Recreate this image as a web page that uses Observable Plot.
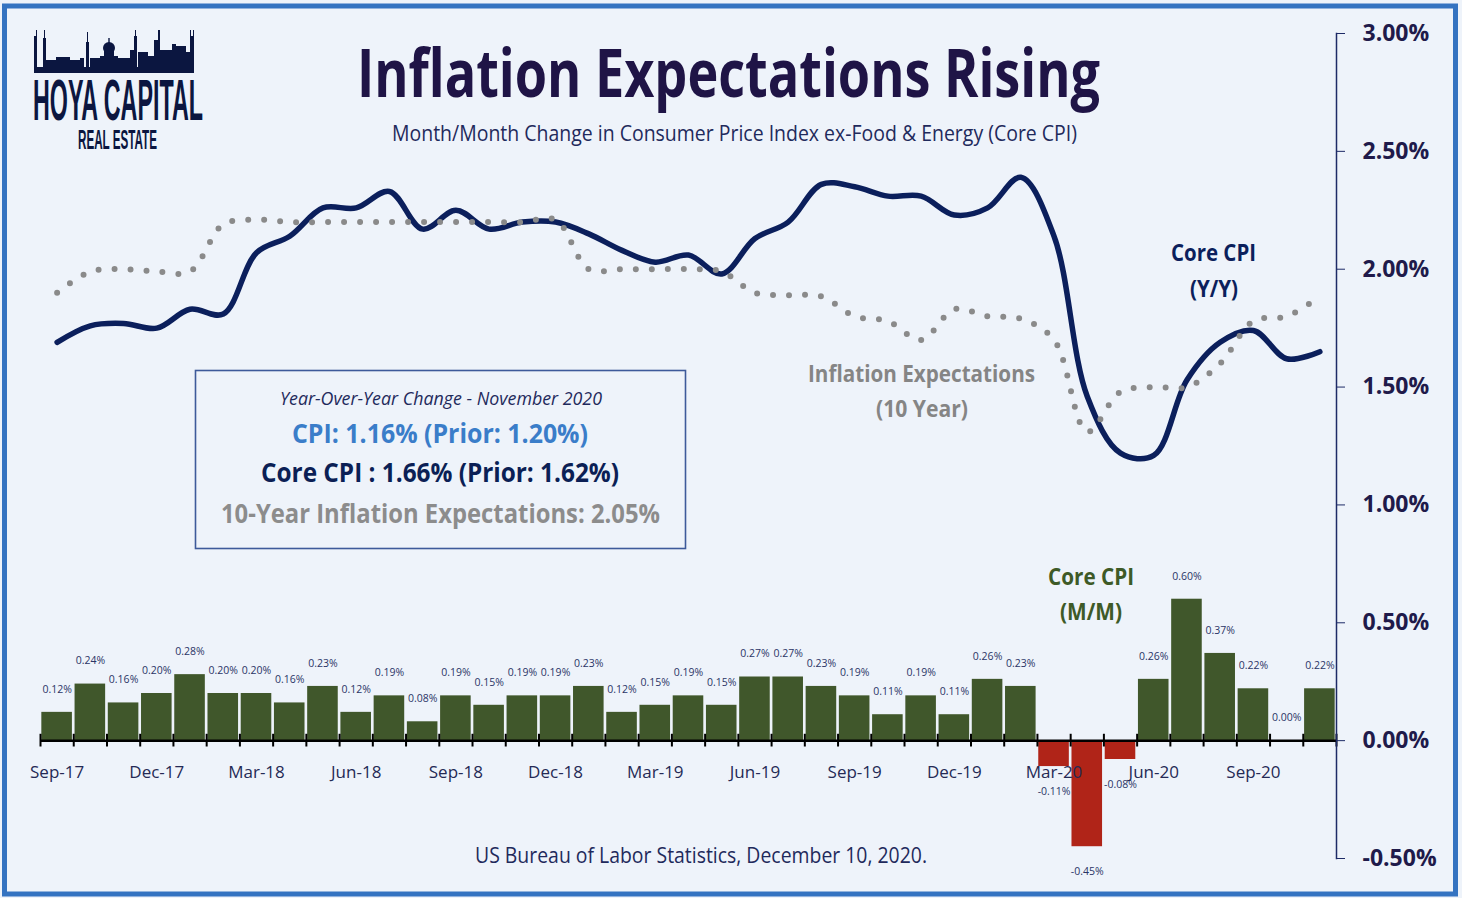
<!DOCTYPE html>
<html>
<head>
<meta charset="utf-8">
<script src="https://cdn.jsdelivr.net/npm/d3@7"></script>
<script src="https://cdn.jsdelivr.net/npm/@observablehq/plot@0.6"></script>
<style>
  html, body { margin: 0; padding: 0; background: #f3f5f8; overflow: hidden; }
  #chart { position: absolute; left: 0; top: 0; width: 1462px; height: 898px; }
</style>
</head>
<body>
<div id="chart"></div>
<script>
// ---------- data ----------
const months = ["Sep-17","Oct-17","Nov-17","Dec-17","Jan-18","Feb-18","Mar-18","Apr-18","May-18","Jun-18","Jul-18","Aug-18",
  "Sep-18","Oct-18","Nov-18","Dec-18","Jan-19","Feb-19","Mar-19","Apr-19","May-19","Jun-19","Jul-19","Aug-19",
  "Sep-19","Oct-19","Nov-19","Dec-19","Jan-20","Feb-20","Mar-20","Apr-20","May-20","Jun-20","Jul-20","Aug-20",
  "Sep-20","Oct-20","Nov-20"];
const coreMoM = [0.12,0.24,0.16,0.20,0.28,0.20,0.20,0.16,0.23,0.12,0.19,0.08,
  0.19,0.15,0.19,0.19,0.23,0.12,0.15,0.19,0.15,0.27,0.27,0.23,
  0.19,0.11,0.19,0.11,0.26,0.23,-0.11,-0.45,-0.08,0.26,0.60,0.37,
  0.22,0.00,0.22];
const coreYoY = [1.69,1.76,1.77,1.75,1.83,1.81,2.07,2.14,2.26,2.26,2.33,2.17,
  2.25,2.17,2.20,2.20,2.15,2.08,2.03,2.06,1.98,2.13,2.20,2.36,
  2.35,2.31,2.31,2.23,2.26,2.39,2.14,1.46,1.22,1.21,1.53,1.69,
  1.74,1.62,1.65];
const inflExp = [1.90,1.99,2.00,1.99,1.99,2.19,2.21,2.20,2.20,2.20,2.20,2.20,
  2.20,2.20,2.20,2.21,2.00,2.00,2.00,2.00,1.99,1.90,1.89,1.885,
  1.80,1.78,1.70,1.83,1.80,1.79,1.70,1.31,1.48,1.50,1.50,1.60,
  1.78,1.80,1.885];
const tickLabels = ["Sep-17","Dec-17","Mar-18","Jun-18","Sep-18","Dec-18","Mar-19","Jun-19","Sep-19","Dec-19","Mar-20","Jun-20","Sep-20"];
const yTicks = [-0.5,0,0.5,1,1.5,2,2.5,3];

const rows = months.map((m, i) => ({month: m, mm: coreMoM[i], core: coreYoY[i], exp: inflExp[i]}));
const pct = v => v.toFixed(2) + "%";

const GREEN = "#40572b", RED = "#b02418", NAVY = "#0b1f5c", GRAY = "#8a8a8a", INK = "#201a4a";

const plot = Plot.plot({
  width: 1462,
  height: 898,
  marginLeft: 40,
  marginRight: 126,
  marginTop: 33,
  marginBottom: 40,
  style: {background: "#eef3fa", fontFamily: "Open Sans, sans-serif"},
  x: {type: "band", domain: months, paddingInner: 0.08, paddingOuter: 0.04, round: false, axis: null},
  y: {type: "linear", domain: [-0.5, 3.0], axis: null},
  marks: [
    Plot.barY(rows, {x: "month", y: "mm", fill: d => d.mm < 0 ? RED : GREEN}),
    Plot.ruleY([0], {stroke: "#000", strokeWidth: 2.5}),
    Plot.ruleX(months, {x: d => d, y1: -0.027, y2: 0.027, dx: -16.6, stroke: "#000", strokeWidth: 2}),
    Plot.ruleX([months[months.length - 1]], {x: d => d, y1: -0.027, y2: 0.027, dx: 16.6, stroke: "#000", strokeWidth: 2}),
    Plot.text(rows.filter(d => d.mm >= 0), {x: "month", y: "mm", text: d => pct(d.mm), dy: -23, fontSize: 10.5, fill: "#2b3566"}),
    Plot.text(rows.filter(d => d.mm < 0), {x: "month", y: "mm", text: d => pct(d.mm), dy: 25, fontSize: 10.5, fill: "#2b3566"}),
    Plot.text(tickLabels, {x: d => d, y: 0, dy: 32, fontSize: 17, fill: "#252a55"}),
    Plot.line(rows, {x: "month", y: "core", curve: "catmull-rom", stroke: NAVY, strokeWidth: 5.5, strokeLinecap: "round"}),
    Plot.line(rows, {x: "month", y: "exp", curve: "catmull-rom", stroke: GRAY, strokeWidth: 6, strokeDasharray: "0 16", strokeLinecap: "round"}),
    Plot.frame({anchor: "right", stroke: "#1d2a66", strokeWidth: 1.5}),
    Plot.axisY({anchor: "right", ticks: yTicks, tickFormat: pct, tickSize: 8, tickPadding: 18,
      fontSize: 23, fontWeight: "bold", color: INK, stroke: "#1d2a66"})
  ]
});

document.getElementById("chart").appendChild(plot);

// ---------- decorations (text, logo, box, frame) ----------
const svg = d3.select(plot);
const deco = svg.append("g").attr("class", "deco");

function txt(s, x, y, size, len, opts = {}) {
  const t = deco.append("text")
    .attr("x", x).attr("y", y)
    .attr("font-family", opts.family || "Open Sans, sans-serif")
    .attr("font-size", size)
    .attr("font-weight", opts.weight || "normal")
    .attr("font-style", opts.italic ? "italic" : "normal")
    .attr("fill", opts.fill || "#1f2a5c")
    .attr("text-anchor", "start")
    .text(s);
  if (len) t.attr("textLength", len).attr("lengthAdjust", "spacingAndGlyphs");
  return t;
}

// Title + subtitle
txt("Inflation Expectations Rising", 357, 97, 66, 743, {weight: "bold", fill: "#1f1446"});
txt("Month/Month Change in Consumer Price Index ex-Food & Energy (Core CPI)", 392, 141, 21, 685, {fill: "#1f2a5c"});

// Caption
txt("US Bureau of Labor Statistics, December 10, 2020.", 475, 863, 21, 452, {fill: "#1f2a5c"});

// Info box
deco.append("rect").attr("x", 195.5).attr("y", 370.5).attr("width", 490).attr("height", 178)
  .attr("fill", "none").attr("stroke", "#3d5a9a").attr("stroke-width", 1.6);
txt("Year-Over-Year Change - November 2020", 280, 405, 19, 322, {italic: true, fill: "#1f2a5c"});
txt("CPI: 1.16% (Prior: 1.20%)", 292, 443, 26, 296, {weight: "bold", fill: "#3a7dc9"});
txt("Core CPI : 1.66% (Prior: 1.62%)", 261, 482, 26, 358, {weight: "bold", fill: "#0b1f55"});
txt("10-Year Inflation Expectations: 2.05%", 221, 523, 27, 439, {weight: "bold", fill: "#8c8c8c"});

// Series annotations
txt("Inflation Expectations", 808, 382, 23, 227, {weight: "bold", fill: "#858585"});
txt("(10 Year)", 876, 417, 23, 92, {weight: "bold", fill: "#858585"});
txt("Core CPI", 1171, 261, 23, 85, {weight: "bold", fill: NAVY});
txt("(Y/Y)", 1190, 297, 23, 48, {weight: "bold", fill: NAVY});
txt("Core CPI", 1048, 585, 23, 86, {weight: "bold", fill: "#3e5a27"});
txt("(M/M)", 1060, 620, 23, 62, {weight: "bold", fill: "#3e5a27"});

// Logo
const LOGO = "#0b1640";
const sky = deco.append("g").attr("fill", LOGO);
const blds = [
  [34,3,36],[36,1,30],[43,3,38],[44,1,30],[46,10,60],[56,14,57],[70,10,60],[80,4,58],[86,3,42],[87,1,32],
  [90,10,58],[100,18,56],[104,10,46],[118,12,58],[130,4,50],[134,3,36],[135,1,30],[138,10,52],[148,6,56],
  [154,5,40],[158,2,30],[160,12,50],[172,4,44],[176,10,46],[186,4,52],[190,4,36],[190,1,30],[193,1,30]
];
blds.forEach(([x, w, top]) => sky.append("rect").attr("x", x).attr("y", top).attr("width", w).attr("height", 73 - top));
sky.append("circle").attr("cx", 109).attr("cy", 48).attr("r", 6);
sky.append("rect").attr("x", 108.3).attr("y", 38).attr("width", 1.4).attr("height", 6);
sky.append("rect").attr("x", 34).attr("y", 67).attr("width", 160).attr("height", 6);
txt("HOYA CAPITAL", 33, 120, 58, 170, {weight: "bold", fill: LOGO, family: "Liberation Sans, Arial, sans-serif"});
txt("REAL ESTATE", 78, 149, 27, 79, {weight: "bold", fill: LOGO, family: "Liberation Sans, Arial, sans-serif"});

// Outer frame
deco.append("rect").attr("x", 4.5).attr("y", 6).attr("width", 1451).attr("height", 888)
  .attr("fill", "none").attr("stroke", "#3473c1").attr("stroke-width", 5);
</script>
</body>
</html>
